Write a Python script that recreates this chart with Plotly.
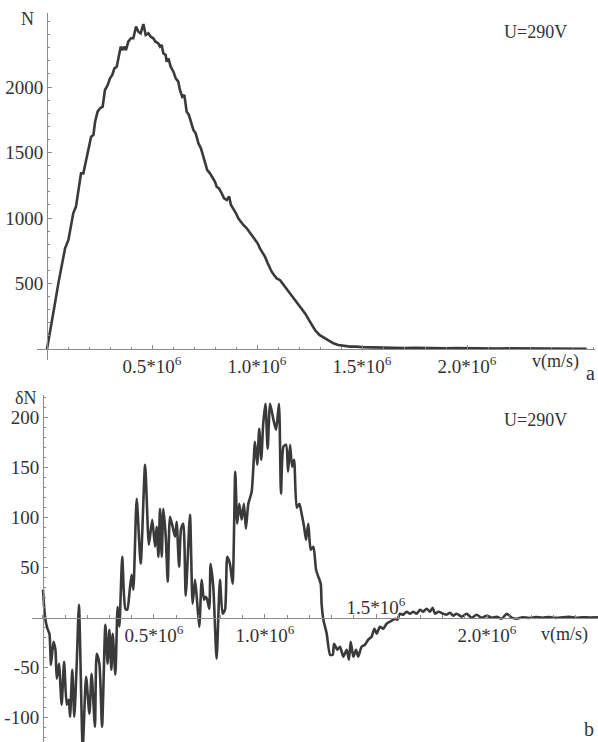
import plotly.graph_objects as go

# ---------------- data (v in units of 10^6 m/s) ----------------
v_top = [0.000, 0.022, 0.038, 0.054, 0.070, 0.086, 0.102, 0.113, 0.125, 0.138,
         0.149, 0.162, 0.173, 0.186, 0.197, 0.210, 0.221, 0.229, 0.241, 0.252,
         0.265, 0.276, 0.289, 0.300, 0.311, 0.321, 0.332, 0.340, 0.351, 0.360,
         0.367, 0.376, 0.387, 0.400, 0.411, 0.424, 0.435, 0.446, 0.459, 0.470,
         0.483, 0.494, 0.506, 0.517, 0.530, 0.538, 0.546, 0.554, 0.565, 0.570,
         0.578, 0.589, 0.602, 0.613, 0.625, 0.633, 0.644, 0.654, 0.665, 0.676,
         0.686, 0.697, 0.708, 0.721, 0.733, 0.744, 0.752, 0.763, 0.776, 0.787,
         0.800, 0.808, 0.819, 0.832, 0.843, 0.856, 0.867, 0.876, 0.887, 0.900,
         0.911, 0.922, 0.935, 0.951, 0.963, 0.975, 0.983, 0.994, 1.003, 1.014,
         1.025, 1.038, 1.051, 1.062, 1.070, 1.081, 1.094, 1.110, 1.133, 1.157,
         1.181, 1.205, 1.229, 1.252, 1.276, 1.297, 1.316, 1.340, 1.364, 1.387,
         1.411, 1.443, 1.475, 1.506, 1.55, 1.60, 1.65, 1.70, 1.75, 1.80,
         1.85, 1.90, 1.95, 2.00, 2.05, 2.10, 2.15, 2.20, 2.25, 2.30,
         2.35, 2.40, 2.45, 2.50, 2.57]
N_top = [0, 221, 349, 501, 628, 768, 832, 934, 1036, 1087,
         1214, 1341, 1341, 1443, 1519, 1621, 1634, 1735, 1812, 1837,
         1850, 1977, 2015, 2066, 2092, 2142, 2155, 2232, 2308, 2282,
         2308, 2282, 2346, 2372, 2372, 2461, 2422, 2410, 2481, 2397,
         2410, 2384, 2372, 2346, 2333, 2308, 2321, 2257, 2244, 2193,
         2219, 2155, 2117, 2066, 2041, 1977, 1926, 1939, 1812, 1786,
         1723, 1672, 1646, 1570, 1532, 1468, 1417, 1366, 1341, 1316,
         1277, 1239, 1226, 1188, 1150, 1137, 1165, 1099, 1074, 1036,
         997, 972, 947, 921, 896, 870, 858, 832, 807, 768,
         743, 705, 654, 616, 590, 565, 539, 525, 476, 425,
         374, 323, 272, 209, 145, 107, 89, 64, 43, 31,
         23, 18, 18, 13, 12, 9, 11, 8, 9, 7,
         8, 6, 7, 5, 6, 5, 4, 5, 4, 3,
         4, 3, 3, 2, 2]

v_bot = [0.000, 0.009, 0.020, 0.029, 0.036, 0.047, 0.056, 0.062, 0.072, 0.084,
         0.095, 0.107, 0.116, 0.122, 0.132, 0.141, 0.152, 0.162, 0.179, 0.194,
         0.209, 0.219, 0.234, 0.242, 0.254, 0.266, 0.281, 0.291, 0.299, 0.308,
         0.314, 0.326, 0.336, 0.344, 0.357, 0.371, 0.380, 0.389, 0.399, 0.407,
         0.422, 0.440, 0.460, 0.477, 0.492, 0.505, 0.512, 0.520, 0.527, 0.535,
         0.542, 0.553, 0.562, 0.572, 0.584, 0.595, 0.602, 0.613, 0.622, 0.632,
         0.643, 0.662, 0.674, 0.685, 0.695, 0.704, 0.715, 0.725, 0.733, 0.740,
         0.749, 0.755, 0.767, 0.782, 0.797, 0.809, 0.820, 0.830, 0.842, 0.854,
         0.866, 0.875, 0.884, 0.895, 0.905, 0.914, 0.925, 0.940, 0.955, 0.965,
         0.974, 0.983, 0.992, 1.002, 1.012, 1.023, 1.038, 1.050, 1.063, 1.072,
         1.083, 1.095, 1.104, 1.113, 1.122, 1.131, 1.143, 1.155, 1.165, 1.176,
         1.185, 1.195, 1.206, 1.218, 1.230, 1.240, 1.251, 1.255, 1.263, 1.278,
         1.293, 1.305, 1.311, 1.326, 1.338, 1.353, 1.368, 1.378, 1.386, 1.398,
         1.410, 1.420, 1.435, 1.450, 1.465, 1.480, 1.493, 1.503, 1.518, 1.533,
         1.548, 1.563, 1.586, 1.596, 1.608, 1.623, 1.638, 1.653, 1.668, 1.683,
         1.698, 1.713, 1.728, 1.743, 1.755, 1.766, 1.781, 1.803, 1.818, 1.833,
         1.848, 1.863, 1.886, 1.908, 1.931, 1.953, 1.976, 1.999, 2.021, 2.044,
         2.066, 2.089, 2.111, 2.134, 2.16, 2.19, 2.22, 2.25, 2.28, 2.31,
         2.34, 2.37, 2.40, 2.43, 2.46, 2.50]
dN_bot = [28, 1, -11, -16, -47, -24, -32, -61, -46, -87,
          -44, -87, -82, -99, -52, -99, -46, 13, -130, -59,
          -96, -56, -109, -36, -46, -109, -7, -46, -12, -52,
          -16, -57, 11, -9, 61, 9, 8, 24, 43, 28,
          119, 54, 153, 73, 98, 71, 91, 61, 109, 61,
          109, 81, 36, 101, 91, 81, 96, 51, 89, 94,
          22, 103, 14, 38, 14, -9, 38, 18, 21, 18,
          9, 54, 31, -41, 38, 4, 8, 61, 54, 34,
          146, 94, 114, 98, 114, 89, 114, 126, 176, 153,
          189, 158, 194, 214, 169, 214, 198, 188, 214, 124,
          171, 173, 146, 173, 151, 158, 110, 114, 104, 91,
          78, 94, 68, 71, 48, 41, 34, 14, -2, -16,
          -37, -37, -26, -32, -29, -39, -32, -42, -24, -39,
          -32, -39, -29, -27, -22, -19, -11, -16, -9, -11,
          -6, -4, -1, -2, 4, 3, 6, 4, 6, 4,
          8, 6, 9, 6, 10, 4, 6, 4, 3, 5,
          2, 4, 1, 4, 0, 3, 0, 2, 0, 1,
          -1, 4, 0, -1, 0.5, -0.3, 0.6, 0, 0.7, -0.2,
          0.4, 0.8, 0, 0.5, 0.2, 0.3]

top_xticks = [0.5, 1.0, 1.5, 2.0]
top_xlabels = ["0.5*10<sup>6</sup>", "1.0*10<sup>6</sup>", "1.5*10<sup>6</sup>", "2.0*10<sup>6</sup>"]
top_yticks = [500, 1000, 1500, 2000]
top_ylabels = ["500", "1000", "1500", "2000"]

bot_xticks = [0.5, 1.0, 1.5, 2.0]
bot_xlabels_below = ["0.5*10<sup>6</sup>", "1.0*10<sup>6</sup>", "", "2.0*10<sup>6</sup>"]
bot_xticks_above = [1.5]
bot_xlabels_above = ["1.5*10<sup>6</sup>"]
bot_yticks = [-100, -50, 50, 100, 150, 200]
bot_ylabels = ["-100", "-50", "50", "100", "150", "200"]

# ---------------- layout geometry ----------------
W, H = 598, 742
def px(x):
    return x / W
def py(y):
    return 1 - y / H

FONT = "Liberation Serif"
TXT = "#333333"
AX = "#8a8a8a"
LINE = "#3a3a3a"

top_xr = [-0.0476, 2.6095]
top_yr = [-84, 2565]
bot_xr = [-0.0495, 2.50]
bot_yr = [-124.3, 222.7]

fig = go.Figure()
fig.add_trace(go.Scatter(x=v_top, y=N_top, mode="lines",
                         line=dict(color=LINE, width=2.6),
                         xaxis="x", yaxis="y", showlegend=False, hoverinfo="skip"))
fig.add_trace(go.Scatter(x=v_bot, y=dN_bot, mode="lines",
                         line=dict(color=LINE, width=2.6, shape="spline", smoothing=0.6),
                         xaxis="x2", yaxis="y2", showlegend=False, hoverinfo="skip"))
fig.add_trace(go.Scatter(x=[], y=[], mode="lines", xaxis="x3", yaxis="y2",
                         showlegend=False, hoverinfo="skip"))

tickfont = dict(family=FONT, size=19, color=TXT)

def xax(domain, rng, pos, tickvals, ticktext, **kw):
    d = dict(domain=domain, range=rng, anchor="free", position=pos,
             showgrid=False, zeroline=False, showline=True, linecolor=AX, linewidth=1,
             ticks="inside", ticklen=4, tickwidth=1, tickcolor=AX,
             tickmode="array", tickvals=tickvals, ticktext=ticktext,
             tickfont=tickfont,
             minor=dict(ticks="inside", ticklen=2.5, tickwidth=1, tickcolor=AX,
                        tickmode="linear", tick0=0, dtick=0.1, showgrid=False))
    d.update(kw)
    return d

def yax(domain, rng, pos, tickvals, ticktext, mdt, **kw):
    d = dict(domain=domain, range=rng, anchor="free", position=pos,
             showgrid=False, zeroline=False, showline=True, linecolor=AX, linewidth=1,
             ticks="inside", ticklen=4, tickwidth=1, tickcolor=AX,
             tickmode="array", tickvals=tickvals, ticktext=ticktext,
             tickfont=tickfont,
             minor=dict(ticks="inside", ticklen=2, tickwidth=1, tickcolor=AX,
                        tickmode="linear", tick0=0, dtick=mdt, showgrid=False))
    d.update(kw)
    return d

top_xdom = [px(37), px(595)]
top_ydom = [py(360), py(13)]
bot_xdom = [px(32), 1.0]
bot_ydom = [0.0, py(395)]

fig.update_layout(
    width=W, height=H,
    margin=dict(l=0, r=0, t=0, b=0),
    paper_bgcolor="white", plot_bgcolor="white",
    xaxis=xax(top_xdom, top_xr, py(349), top_xticks, top_xlabels),
    yaxis=yax(top_ydom, top_yr, px(47), top_yticks, top_ylabels, 100),
    xaxis2=xax(bot_xdom, bot_xr, py(617.7), bot_xticks, bot_xlabels_below),
    yaxis2=yax(bot_ydom, bot_yr, px(43), bot_yticks, bot_ylabels, 10),
    xaxis3=dict(domain=bot_xdom, range=bot_xr, anchor="free", position=py(617.7),
                overlaying="x2", side="top", showgrid=False, zeroline=False,
                showline=False, ticks="", tickmode="array",
                tickvals=bot_xticks_above, ticktext=bot_xlabels_above,
                tickfont=tickfont),
)

annots = [
    ("N", 28, 19, 18),
    ("U=290V", 535, 32, 18),
    ("v(m/s)", 555, 361, 18),
    ("a", 590, 373, 20),
    ("δN", 25, 398, 18),
    ("U=290V", 535, 420, 18),
    ("v(m/s)", 564, 634, 18),
    ("b", 589, 729, 20),
]
for t, x, y, s in annots:
    fig.add_annotation(text=t, x=px(x), y=py(y), xref="paper", yref="paper",
                       xanchor="center", yanchor="middle", showarrow=False,
                       font=dict(family=FONT, size=s, color=TXT))

fig.write_html("out.html",
               config={"displayModeBar": False, "staticPlot": True},
               post_script="document.body.style.margin='0';document.body.style.overflow='hidden';")
